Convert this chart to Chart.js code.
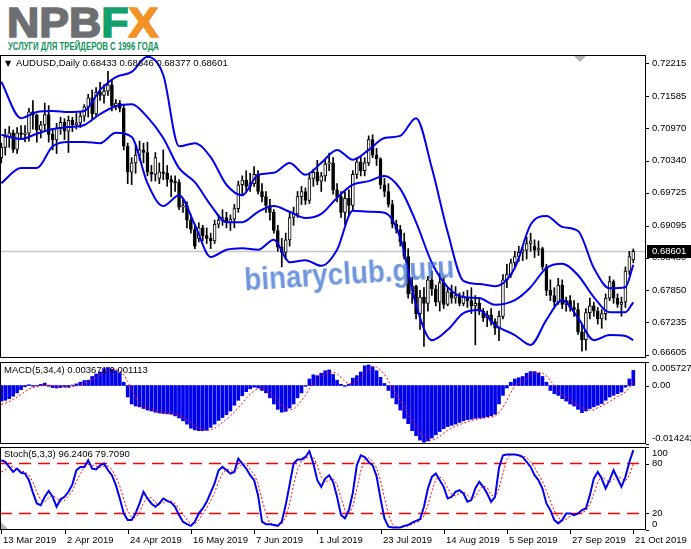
<!DOCTYPE html>
<html>
<head>
<meta charset="utf-8">
<script src="https://cdn.jsdelivr.net/npm/chart.js@4.4.1/dist/chart.umd.min.js"></script>
<style>
  body { margin: 0; background: #fff; width: 691px; height: 549px; overflow: hidden; position: relative; font-family: "Liberation Sans", Arial, sans-serif; }
  canvas { position: absolute; left: 0; }
  .txt { position: absolute; white-space: nowrap; color: #000; font-size: 9.5px; line-height: 12px; z-index: 5; }
  #logo { position: absolute; left: 7px; top: 2px; font: bold 42px/42px "Liberation Sans", Arial, sans-serif; white-space: nowrap; transform-origin: 0 0; z-index: 5; }
  #logo span { -webkit-text-stroke: 1.6px currentColor; }
  #logo .g { color: #6e6f72; } #logo .f { color: #13a06b; } #logo .x { color: #f39325; }
  #tag { position: absolute; left: 8px; top: 40px; font: bold 11px/12px "Liberation Sans Narrow", "Liberation Sans", sans-serif; color: #10935c; white-space: nowrap; transform-origin: 0 0; z-index: 5; }
  #wm { position: absolute; left: 245px; top: 266px; font: bold 29px/29px "Liberation Sans", Arial, sans-serif; color: rgba(70,120,210,0.78); white-space: nowrap; transform-origin: 0 24.5px; z-index: 6; }
  .tri { font-size: 8px; font-family: "DejaVu Sans", sans-serif; }
</style>
</head>
<body>
<div id="logo"><span class="g">NPB</span><span class="f">F</span><span class="x">X</span></div>
<div id="tag">УСЛУГИ ДЛЯ ТРЕЙДЕРОВ С 1996 ГОДА</div>
<canvas id="chartMain" width="691" height="311" style="top:55px"></canvas>
<canvas id="chartMacd" width="691" height="92" style="top:358px"></canvas>
<canvas id="chartStoch" width="691" height="109" style="top:440px"></canvas>
<div class="txt" id="hdr" style="left:5px; top:57px"></div>
<div class="txt" id="macdT" style="left:4px; top:364px"></div>
<div class="txt" id="stochT" style="left:4px; top:448px"></div>
<div id="wm">binaryclub.guru</div>
<script>
// AUDUSD daily, 11 Mar 2019 .. 21 Oct 2019 (bar index 0..160)
var opens = [
  0.7040,0.7060,0.7080,0.7088,0.7056,0.7088,0.7085,0.7087,0.7128,0.7122,
  0.7093,0.7103,0.7123,0.7085,0.7074,0.7097,0.7108,0.7091,0.7112,0.7103,
  0.7107,0.7120,0.7138,0.7155,0.7124,0.7166,0.7160,0.7168,0.7180,0.7140,
  0.7145,0.7135,0.7062,0.7012,0.7030,0.7045,0.7055,0.7050,0.7012,0.7008,
  0.7000,0.7013,0.7010,0.6998,0.6993,0.6992,0.6945,0.6948,0.6920,0.6902,
  0.6885,0.6905,0.6890,0.6885,0.6880,0.6912,0.6920,0.6925,0.6915,0.6922,
  0.6942,0.6988,0.6997,0.6985,0.6990,0.7008,0.6975,0.6965,0.6948,0.6935,
  0.6900,0.6868,0.6858,0.6882,0.6925,0.6932,0.6965,0.6975,0.6958,0.7000,
  0.7012,0.6995,0.7005,0.7028,0.7030,0.6978,0.6965,0.6935,0.6962,0.6948,
  0.7008,0.7032,0.7015,0.7030,0.7075,0.7045,0.7038,0.6988,0.6975,0.6950,
  0.6912,0.6902,0.6878,0.6850,0.6778,0.6793,0.6740,0.6772,0.6760,0.6805,
  0.6788,0.6762,0.6800,0.6758,0.6782,0.6770,0.6775,0.6760,0.6772,0.6765,
  0.6755,0.6760,0.6745,0.6732,0.6738,0.6725,0.6712,0.6735,0.6805,0.6815,
  0.6838,0.6850,0.6858,0.6862,0.6875,0.6870,0.6862,0.6865,0.6830,0.6785,
  0.6775,0.6762,0.6795,0.6758,0.6765,0.6752,0.6748,0.6705,0.6690,0.6742,
  0.6755,0.6745,0.6730,0.6740,0.6770,0.6802,0.6770,0.6758,0.6762,0.6822,
  0.68433
];
var highs = [
  0.7068,0.7095,0.7100,0.7093,0.7098,0.7102,0.7102,0.7135,0.7150,0.7124,
  0.7110,0.7145,0.7140,0.7095,0.7106,0.7118,0.7115,0.7120,0.7118,0.7125,
  0.7128,0.7142,0.7162,0.7170,0.7175,0.7185,0.7180,0.7206,0.7190,0.7152,
  0.7150,0.7142,0.7068,0.7040,0.7065,0.7072,0.7068,0.7070,0.7025,0.7050,
  0.7030,0.7055,0.7025,0.7005,0.7005,0.6998,0.6960,0.6955,0.6930,0.6908,
  0.6915,0.6910,0.6905,0.6895,0.6920,0.6930,0.6940,0.6935,0.6930,0.6950,
  0.6995,0.7005,0.7015,0.7010,0.7023,0.7015,0.6990,0.6975,0.6960,0.6940,
  0.6910,0.6885,0.6895,0.6935,0.6945,0.6975,0.6985,0.6982,0.7010,0.7018,
  0.7035,0.7012,0.7035,0.7049,0.7040,0.6990,0.6975,0.6975,0.6978,0.7015,
  0.7040,0.7042,0.7040,0.7082,0.7084,0.7058,0.7040,0.7000,0.6990,0.6958,
  0.6920,0.6910,0.6895,0.6865,0.6810,0.6795,0.6785,0.6790,0.6812,0.6822,
  0.6795,0.6818,0.6810,0.6790,0.6795,0.6792,0.6780,0.6782,0.6785,0.6790,
  0.6775,0.6768,0.6750,0.6745,0.6750,0.6730,0.6745,0.6815,0.6835,0.6845,
  0.6860,0.6870,0.6868,0.6887,0.6895,0.6882,0.6880,0.6868,0.6835,0.6805,
  0.6790,0.6808,0.6805,0.6772,0.6775,0.6765,0.6760,0.6718,0.6750,0.6770,
  0.6762,0.6752,0.6748,0.6778,0.6812,0.6805,0.6778,0.6772,0.6830,0.6860,
  0.68646
];
var lows = [
  0.7030,0.7045,0.7060,0.7050,0.7048,0.7075,0.7071,0.7072,0.7095,0.7070,
  0.7078,0.7090,0.7070,0.7055,0.7048,0.7085,0.7075,0.7050,0.7090,0.7095,
  0.7098,0.7110,0.7118,0.7115,0.7120,0.7150,0.7145,0.7160,0.7130,0.7132,
  0.7128,0.7055,0.6990,0.6988,0.7010,0.7035,0.7030,0.7005,0.6995,0.6995,
  0.6990,0.6998,0.6985,0.6965,0.6975,0.6940,0.6935,0.6905,0.6895,0.6865,
  0.6878,0.6880,0.6875,0.6865,0.6875,0.6905,0.6910,0.6905,0.6900,0.6905,
  0.6935,0.6970,0.6975,0.6975,0.6985,0.6970,0.6955,0.6935,0.6920,0.6895,
  0.6860,0.6830,0.6845,0.6870,0.6910,0.6925,0.6950,0.6950,0.6952,0.6985,
  0.6988,0.6975,0.6995,0.7015,0.6970,0.6955,0.6925,0.6911,0.6930,0.6940,
  0.7000,0.7005,0.7005,0.7025,0.7040,0.7025,0.6980,0.6965,0.6945,0.6905,
  0.6895,0.6870,0.6845,0.6770,0.6760,0.6730,0.6710,0.6677,0.6745,0.6775,
  0.6755,0.6745,0.6750,0.6755,0.6760,0.6760,0.6755,0.6755,0.6752,0.6740,
  0.6680,0.6738,0.6725,0.6715,0.6718,0.6700,0.6688,0.6730,0.6790,0.6810,
  0.6830,0.6840,0.6842,0.6845,0.6860,0.6848,0.6852,0.6825,0.6775,0.6765,
  0.6755,0.6758,0.6750,0.6745,0.6745,0.6735,0.6700,0.6668,0.6670,0.6730,
  0.6735,0.6720,0.6712,0.6728,0.6765,0.6760,0.6752,0.6735,0.6752,0.6815,
  0.68377
];
var closes = [
  0.7060,0.7080,0.7088,0.7056,0.7088,0.7085,0.7087,0.7128,0.7122,0.7093,
  0.7103,0.7123,0.7085,0.7074,0.7097,0.7108,0.7091,0.7112,0.7103,0.7107,
  0.7120,0.7138,0.7155,0.7124,0.7166,0.7160,0.7168,0.7180,0.7140,0.7145,
  0.7135,0.7062,0.7012,0.7030,0.7045,0.7055,0.7050,0.7012,0.7008,0.7040,
  0.7013,0.7010,0.6998,0.6993,0.6992,0.6945,0.6948,0.6920,0.6902,0.6870,
  0.6905,0.6890,0.6885,0.6880,0.6912,0.6920,0.6925,0.6915,0.6922,0.6942,
  0.6988,0.6997,0.6985,0.6990,0.7008,0.6975,0.6965,0.6948,0.6935,0.6900,
  0.6868,0.6858,0.6882,0.6925,0.6932,0.6965,0.6975,0.6958,0.7000,0.7012,
  0.6995,0.7005,0.7028,0.7030,0.6978,0.6965,0.6935,0.6962,0.6948,0.7008,
  0.7032,0.7015,0.7030,0.7075,0.7045,0.7038,0.6988,0.6975,0.6950,0.6912,
  0.6902,0.6878,0.6850,0.6778,0.6793,0.6740,0.6772,0.6760,0.6805,0.6788,
  0.6762,0.6800,0.6758,0.6782,0.6770,0.6775,0.6760,0.6772,0.6765,0.6755,
  0.6760,0.6745,0.6732,0.6738,0.6725,0.6712,0.6735,0.6805,0.6815,0.6838,
  0.6850,0.6858,0.6862,0.6875,0.6880,0.6862,0.6865,0.6830,0.6785,0.6775,
  0.6762,0.6795,0.6758,0.6765,0.6752,0.6748,0.6705,0.6690,0.6742,0.6755,
  0.6745,0.6730,0.6740,0.6770,0.6802,0.6770,0.6758,0.6762,0.6822,0.6850,
  0.68601
];

// Bollinger bands at these bar indices
var bandIdx = [0,5,9,13,17,21,25,29,33,37,41,45,49,53,57,61,65,69,73,77,81,85,89,93,97,101,105,109,113,117,121,125,130,134,138,142,146,150,154,158,160];
var bandUpper = [0.7186,0.7116,0.7128,0.7130,0.7128,0.7130,0.7170,0.7195,0.7205,0.7234,0.7199,0.7062,0.7068,0.7041,0.6988,0.6968,0.7007,0.7011,0.7030,0.7007,0.7030,0.7055,0.7036,0.7055,0.7078,0.7082,0.7116,0.7020,0.6897,0.6803,0.6797,0.6793,0.6828,0.6911,0.6928,0.6907,0.6899,0.6828,0.6789,0.6791,0.6834];
var bandMid = [0.7084,0.7076,0.7086,0.7095,0.7099,0.7103,0.7124,0.7139,0.7143,0.7118,0.7078,0.7020,0.6993,0.6949,0.6916,0.6916,0.6936,0.6947,0.6936,0.6924,0.6932,0.6963,0.6988,0.6995,0.7005,0.6980,0.6916,0.6838,0.6791,0.6772,0.6770,0.6757,0.6766,0.6791,0.6828,0.6836,0.6814,0.6772,0.6743,0.6743,0.6762];
var bandLower = [0.6991,0.7020,0.7020,0.7062,0.7070,0.7070,0.7068,0.7088,0.7080,0.6991,0.6947,0.6968,0.6911,0.6849,0.6863,0.6866,0.6863,0.6882,0.6839,0.6843,0.6832,0.6863,0.6938,0.6936,0.6934,0.6886,0.6757,0.6689,0.6709,0.6741,0.6747,0.6718,0.6699,0.6680,0.6728,0.6766,0.6732,0.6689,0.6699,0.6697,0.6689];

var macdHist = [
  -0.0038,
  -0.0036,-0.0032,-0.0026,-0.0018,-0.0010,-0.0003,0.0002,-0.0002,-0.0001,0.0003,
  0.0006,-0.0002,-0.0005,-0.0006,-0.0005,-0.0003,-0.0004,0.0001,0.0004,0.0008,
  0.0012,0.0013,0.0022,0.0028,0.0033,0.0041,0.0044,0.0040,0.0036,0.0030,
  0.0008,-0.0028,-0.0045,-0.0050,-0.0052,-0.0056,-0.0060,-0.0062,-0.0065,-0.0067,
  -0.0068,-0.0069,-0.0070,-0.0074,-0.0079,-0.0086,-0.0094,-0.0104,-0.0108,-0.0110,
  -0.0110,-0.0109,-0.0102,-0.0094,-0.0085,-0.0078,-0.0071,-0.0062,-0.0048,-0.0036,
  -0.0025,-0.0015,-0.0008,-0.0004,-0.0006,-0.0012,-0.0018,-0.0030,-0.0045,-0.0058,
  -0.0065,-0.0063,-0.0055,-0.0045,-0.0030,-0.0018,-0.0002,0.0016,0.0026,0.0024,
  0.0030,0.0036,0.0038,0.0027,0.0013,0.0003,-0.0002,0.0003,0.0018,0.0024,
  0.0033,0.0048,0.0050,0.0046,0.0036,0.0020,0.0005,-0.0012,-0.0030,-0.0045,
  -0.0060,-0.0080,-0.0093,-0.0110,-0.0122,-0.0133,-0.0138,-0.0135,-0.0128,-0.0120,
  -0.0112,-0.0105,-0.0100,-0.0097,-0.0094,-0.0090,-0.0086,-0.0083,-0.0082,-0.0080,
  -0.0079,-0.0078,-0.0076,-0.0074,-0.0070,-0.0045,-0.0024,-0.0006,0.0008,0.0016,
  0.0019,
  0.0022,0.0030,0.0034,0.0034,0.0030,0.0022,0.0008,-0.0012,-0.0020,-0.0024,
  -0.0032,-0.0038,-0.0045,-0.0050,-0.0058,-0.0066,-0.0062,-0.0056,-0.0052,-0.0048,
  -0.0044,-0.0036,-0.0028,-0.0024,-0.0020,-0.0016,-0.0004,0.0016,0.003671
];
var macdSignal = [
  -0.0046,
  -0.0043,-0.0039,-0.0034,-0.0028,-0.0022,-0.0015,-0.0009,-0.0005,-0.0003,-0.0001,
  0.0001,0.0001,0.0000,-0.0002,-0.0004,-0.0005,-0.0005,-0.0003,-0.0001,0.0002,
  0.0006,0.0009,0.0014,0.0019,0.0026,0.0031,0.0036,0.0039,0.0040,0.0036,
  0.0026,0.0010,-0.0010,-0.0029,-0.0044,-0.0051,-0.0054,-0.0057,-0.0061,-0.0063,
  -0.0065,-0.0067,-0.0068,-0.0070,-0.0073,-0.0077,-0.0083,-0.0091,-0.0098,-0.0104,
  -0.0108,-0.0109,-0.0108,-0.0104,-0.0098,-0.0090,-0.0082,-0.0074,-0.0065,-0.0054,
  -0.0043,-0.0031,-0.0021,-0.0013,-0.0008,-0.0008,-0.0010,-0.0017,-0.0026,-0.0038,
  -0.0050,-0.0058,-0.0060,-0.0057,-0.0048,-0.0037,-0.0024,-0.0008,0.0006,0.0016,
  0.0024,0.0029,0.0032,0.0033,0.0029,0.0020,0.0010,0.0004,0.0006,0.0011,
  0.0020,0.0031,0.0039,0.0044,0.0045,0.0038,0.0027,0.0012,-0.0004,-0.0021,
  -0.0037,-0.0054,-0.0070,-0.0086,-0.0101,-0.0115,-0.0126,-0.0132,-0.0134,-0.0130,
  -0.0124,-0.0116,-0.0109,-0.0104,-0.0099,-0.0095,-0.0092,-0.0088,-0.0085,-0.0083,
  -0.0081,-0.0080,-0.0078,-0.0077,-0.0075,-0.0066,-0.0053,-0.0036,-0.0017,0.0000,
  0.0005,
  0.0010,0.0019,0.0026,0.0030,0.0032,0.0030,0.0024,0.0012,0.0000,-0.0012,
  -0.0022,-0.0028,-0.0035,-0.0041,-0.0048,-0.0055,-0.0059,-0.0060,-0.0059,-0.0054,
  -0.0050,-0.0045,-0.0039,-0.0033,-0.0027,-0.0022,-0.0016,-0.0006,0.001113
];

var stochMain = [
  84,
  82,76,70,74,69,68,60,45,32,30,
  40,47,40,28,37,40,46,55,72,76,
  76,84,74,73,78,80,72,66,54,38,
  20,12,12,20,32,46,38,32,28,32,
  38,35,33,28,18,10,7,5,10,20,
  26,34,45,56,72,76,72,68,70,86,
  80,74,66,60,42,10,7,7,6,5,
  10,30,55,80,85,85,88,95,80,60,
  52,62,66,58,40,18,14,24,45,78,
  90,88,82,78,65,38,14,4,3,3,
  3,5,6,9,11,13,28,50,64,68,
  60,52,38,40,46,48,44,34,36,50,
  58,52,44,34,40,75,90,91,91,91,
  90,
  88,82,76,66,60,50,32,24,12,8,
  12,20,20,18,20,24,26,42,62,70,
  62,50,60,72,62,52,64,82,96.2406
];
var stochSignal = [
  70,
  72,77,76,73,71,70,66,58,46,36,
  34,39,42,38,35,35,41,47,58,68,
  75,79,78,77,75,77,77,73,64,53,
  37,23,15,15,21,33,39,39,33,31,
  33,35,35,32,26,19,12,7,7,12,
  19,27,35,45,58,68,73,72,70,75,
  79,80,73,67,56,37,20,8,7,6,
  7,15,32,55,73,83,86,89,88,78,
  64,58,60,62,55,39,24,19,28,49,
  71,85,87,83,75,60,39,19,7,3,
  3,4,5,7,9,11,17,30,47,61,
  64,60,50,43,41,45,46,42,38,40,
  48,53,51,43,39,50,68,85,91,91,
  90,
  90,87,82,75,67,59,47,35,23,15,
  11,13,17,19,19,21,23,31,43,58,
  65,61,57,61,65,62,59,66,79.709
];

var priceTicks = [0.72215,0.71585,0.70970,0.70340,0.69725,0.69095,0.68480,0.67850,0.67235,0.66605];
var macdTicks = [0.005727, 0, -0.014242];
var macdTickLabels = ['0.005727', '0.00', '-0.014242'];
var stochTicks = [100, 80, 20, 0];
var stochLevels = [80, 20];
var dateTickBars = [0, 16, 32, 48, 64, 80, 96, 112, 128, 144, 160];
var dateTickLabels = ['13 Mar 2019','2 Apr 2019','24 Apr 2019','16 May 2019','7 Jun 2019','1 Jul 2019','23 Jul 2019','14 Aug 2019','5 Sep 2019','27 Sep 2019','21 Oct 2019'];

var symbol = 'AUDUSD,Daily';
var last = closes.length - 1;
var blue = '#0000ee';
var red = '#ff0000';

// visible window of bars, same for all three panels
var xMin = -0.33, xMax = 162.96;

var mtPanel = {
  id: 'mtPanel',
  beforeDatasetsDraw: function (chart, args, o) {
    if (o.bid === undefined) return;
    var a = chart.chartArea, ctx = chart.ctx;
    var y = Math.round(chart.scales.y.getPixelForValue(o.bid)) + 0.5;
    ctx.save();
    ctx.strokeStyle = '#c6c6c6';
    ctx.lineWidth = 1.5;
    ctx.beginPath(); ctx.moveTo(a.left, y); ctx.lineTo(a.right, y); ctx.stroke();
    ctx.restore();
  },
  afterDraw: function (chart, args, o) {
    var a = chart.chartArea, ctx = chart.ctx, ys = chart.scales.y;
    ctx.save();
    ctx.strokeStyle = '#000';
    ctx.lineWidth = 1;
    ctx.strokeRect(a.left + 0.5, a.top + 0.5, a.right - a.left, a.bottom - a.top - 1);
    ctx.font = '9.5px "Liberation Sans"';
    ctx.fillStyle = '#000';
    ctx.textBaseline = 'middle';
    ctx.textAlign = 'left';
    o.ticks.forEach(function (v, i) {
      var py = ys.getPixelForValue(v);
      ctx.fillRect(a.right + 1, Math.round(py), 3, 1);
      var ty = Math.min(Math.max(py, a.top + 6), a.bottom - 6);
      ctx.fillText(o.labels[i], a.right + 7, ty);
    });
    if (o.bid !== undefined) {
      var by = ys.getPixelForValue(o.bid);
      ctx.fillStyle = '#000';
      ctx.fillRect(a.right + 2, Math.round(by) - 6, chart.width - a.right - 2, 13);
      ctx.fillStyle = '#fff';
      ctx.fillText(o.bid.toFixed(5), a.right + 7, by + 0.5);
      // chart shift marker
      ctx.fillStyle = '#b4b4b4';
      ctx.beginPath(); ctx.moveTo(574, a.top + 1); ctx.lineTo(586, a.top + 1); ctx.lineTo(580, a.top + 7); ctx.fill();
    }
    if (o.dates) {
      var xs = chart.scales.x;
      ctx.fillStyle = '#000';
      o.dates.bars.forEach(function (k, i) {
        var px = Math.round(xs.getPixelForValue(k));
        ctx.fillRect(px, a.bottom, 1, 4);
        ctx.fillText(o.dates.labels[i], px + 2, a.bottom + 10);
      });
      ctx.fillStyle = '#b4b4b4';
      ctx.beginPath(); ctx.moveTo(a.left + 1, a.bottom - 8); ctx.lineTo(a.left + 1, a.bottom - 1); ctx.lineTo(a.left + 8, a.bottom - 1); ctx.fill();
    }
    ctx.restore();
  }
};

function panelOptions(yMin, yMax, pad, plug) {
  return {
    responsive: false,
    animation: false,
    devicePixelRatio: 1,
    layout: { padding: pad },
    scales: {
      x: { type: 'linear', min: xMin, max: xMax, display: false, offset: false },
      y: { min: yMin, max: yMax, display: false }
    },
    plugins: { legend: { display: false }, tooltip: { enabled: false }, mtPanel: plug }
  };
}

var barIdx = closes.map(function (c, k) { return k; });

// main price panel
new Chart(document.getElementById('chartMain'), {
  type: 'bar',
  data: {
    datasets: [
      {
        label: 'upper', type: 'line', order: 0,
        data: bandIdx.map(function (k, j) { return { x: k, y: bandUpper[j] }; }),
        borderColor: blue, borderWidth: 2, pointRadius: 0, cubicInterpolationMode: 'monotone'
      },
      {
        label: 'middle', type: 'line', order: 0,
        data: bandIdx.map(function (k, j) { return { x: k, y: bandMid[j] }; }),
        borderColor: blue, borderWidth: 2, pointRadius: 0, cubicInterpolationMode: 'monotone'
      },
      {
        label: 'lower', type: 'line', order: 0,
        data: bandIdx.map(function (k, j) { return { x: k, y: bandLower[j] }; }),
        borderColor: blue, borderWidth: 2, pointRadius: 0, cubicInterpolationMode: 'monotone'
      },
      {
        label: 'body', order: 1, grouped: false,
        data: barIdx.map(function (k) { return { x: k, y: [opens[k], closes[k]] }; }),
        backgroundColor: barIdx.map(function (k) { return closes[k] >= opens[k] ? '#ffffff' : '#000000'; }),
        borderColor: '#000', borderWidth: 1, borderSkipped: false, barThickness: 3, minBarLength: 1
      },
      {
        label: 'wick', order: 2, grouped: false,
        data: barIdx.map(function (k) { return { x: k, y: [lows[k], highs[k]] }; }),
        backgroundColor: '#000', barThickness: 1
      }
    ]
  },
  options: panelOptions(0.66548, 0.72375, { left: 0, right: 46, top: 0, bottom: 8 },
    { ticks: priceTicks, labels: priceTicks.map(function (v) { return v.toFixed(5); }), bid: closes[last] }),
  plugins: [mtPanel]
});

// MACD panel
new Chart(document.getElementById('chartMacd'), {
  type: 'bar',
  data: {
    datasets: [
      {
        label: 'signal', type: 'line', order: 0,
        data: barIdx.map(function (k) { return { x: k, y: macdSignal[k] }; }),
        borderColor: red, borderWidth: 1, borderDash: [2, 2], pointRadius: 0
      },
      {
        label: 'macd', order: 1, grouped: false,
        data: barIdx.map(function (k) { return { x: k, y: macdHist[k] }; }),
        backgroundColor: blue, barThickness: 3
      }
    ]
  },
  options: panelOptions(-0.014242, 0.005727, { left: 0, right: 46, top: 4, bottom: 6 },
    { ticks: macdTicks, labels: macdTickLabels }),
  plugins: [mtPanel]
});

// Stochastic panel
new Chart(document.getElementById('chartStoch'), {
  type: 'line',
  data: {
    datasets: [
      {
        label: 'main',
        data: barIdx.map(function (k) { return { x: k, y: stochMain[k] }; }),
        borderColor: blue, borderWidth: 2, pointRadius: 0
      },
      {
        label: 'signal',
        data: barIdx.map(function (k) { return { x: k, y: stochSignal[k] }; }),
        borderColor: red, borderWidth: 1, borderDash: [2, 2], pointRadius: 0
      },
      {
        label: 'level80',
        data: [{ x: xMin, y: stochLevels[0] }, { x: xMax, y: stochLevels[0] }],
        borderColor: red, borderWidth: 1.5, borderDash: [12, 7], pointRadius: 0
      },
      {
        label: 'level20',
        data: [{ x: xMin, y: stochLevels[1] }, { x: xMax, y: stochLevels[1] }],
        borderColor: red, borderWidth: 1.5, borderDash: [12, 7], pointRadius: 0
      }
    ]
  },
  options: panelOptions(0, 100, { left: 0, right: 46, top: 7, bottom: 19 },
    { ticks: stochTicks, labels: stochTicks.map(String), dates: { bars: dateTickBars, labels: dateTickLabels } }),
  plugins: [mtPanel]
});

// panel captions
document.getElementById('hdr').innerHTML = '<span class="tri">\u25BC</span>&nbsp; ';
document.getElementById('hdr').appendChild(document.createTextNode(symbol + ' ' +
  [opens[last], highs[last], lows[last], closes[last]].map(function (v) { return v.toFixed(5); }).join(' ')));
document.getElementById('macdT').textContent = 'MACD(5,34,4) ' + macdHist[last].toFixed(6) + ' ' + macdSignal[last].toFixed(6);
document.getElementById('stochT').textContent = 'Stoch(5,3,3) ' + stochMain[last].toFixed(4) + ' ' + stochSignal[last].toFixed(4);

// fit logo, tagline and watermark to the widths in the picture
function fitWidth(id, w) {
  var el = document.getElementById(id);
  el.style.transform = 'scaleX(' + (w / el.offsetWidth) + ')';
}
fitWidth('logo', 151);
fitWidth('tag', 151);
var wm = document.getElementById('wm');
wm.style.transform = 'rotate(-3.5deg) scale(' + (210 / wm.offsetWidth) + ', 1.1)';
</script>
</body>
</html>
